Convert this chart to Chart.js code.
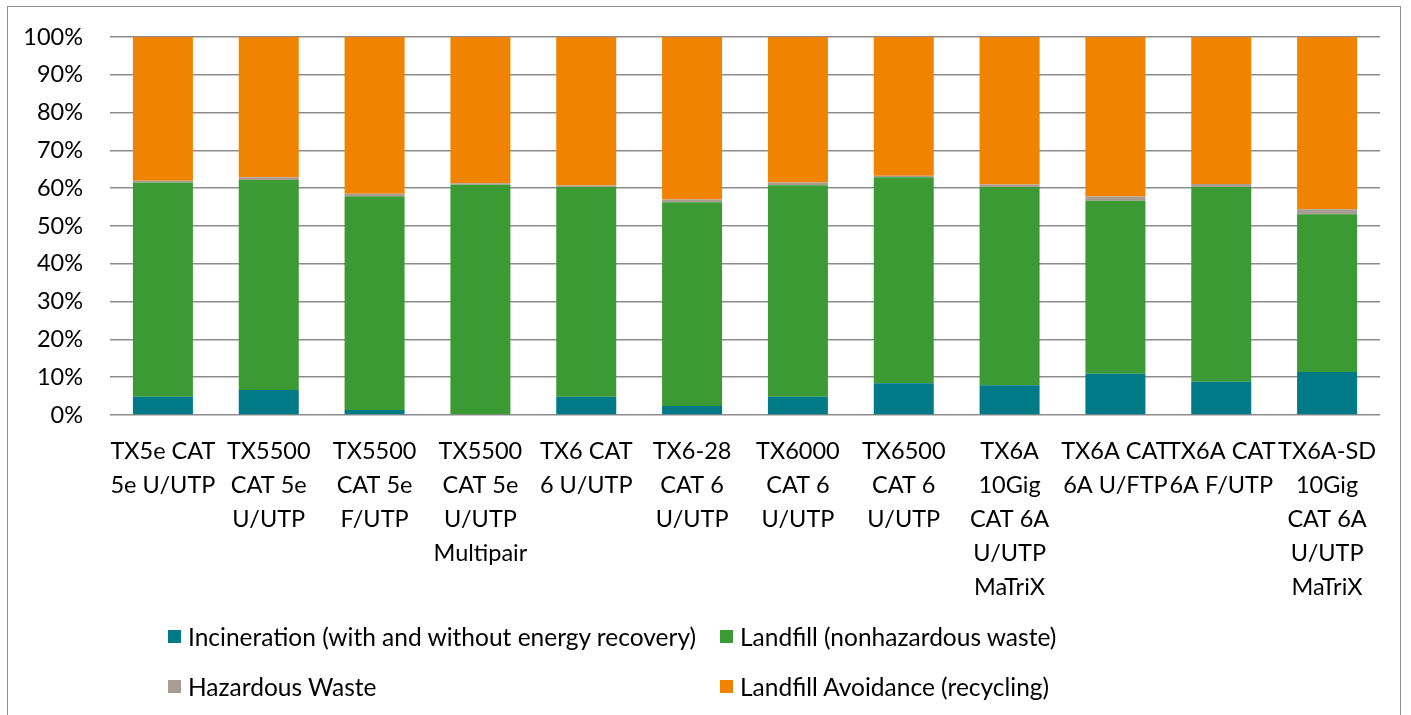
<!DOCTYPE html>
<html>
<head>
<meta charset="utf-8">
<script src="https://cdn.jsdelivr.net/npm/chart.js@4"></script>
<style>
  html, body { margin: 0; padding: 0; background: #fff; overflow: hidden; }
  #wrap { position: relative; width: 1411px; height: 715px; }
  #frame { position: absolute; left: 7px; top: 6px; width: 1394px; height: 800px; border: 1.5px solid #8f8f8f; box-sizing: border-box; }
  #box { position: absolute; left: 0; top: 0; width: 1411px; height: 715px; }
  #legend { position: absolute; left: 168px; top: 618px; display: grid; grid-template-columns: 552px 600px; row-gap: 14px; font-family: Lato, sans-serif; font-size: 24.5px; color: #000; }
  .item { display: flex; align-items: center; height: 36px; white-space: nowrap; }
  .sw { width: 13px; height: 13px; margin-right: 7px; flex: none; }
</style>
</head>
<body>
<div id="wrap">
  <div id="frame"></div>
  <div id="box"><canvas id="chart"></canvas></div>
  <div id="legend"></div>
</div>
<script>
// categories (wrapped the way the original axis shows them)
const categories = [
  ['TX5e CAT', '5e U/UTP'],
  ['TX5500', 'CAT 5e', 'U/UTP'],
  ['TX5500', 'CAT 5e', 'F/UTP'],
  ['TX5500', 'CAT 5e', 'U/UTP', 'Multipair'],
  ['TX6 CAT', '6 U/UTP'],
  ['TX6-28', 'CAT 6', 'U/UTP'],
  ['TX6000', 'CAT 6', 'U/UTP'],
  ['TX6500', 'CAT 6', 'U/UTP'],
  ['TX6A', '10Gig', 'CAT 6A', 'U/UTP', 'MaTriX'],
  ['TX6A CAT', '6A U/FTP'],
  ['TX6A CAT', '6A F/UTP'],
  ['TX6A-SD', '10Gig', 'CAT 6A', 'U/UTP', 'MaTriX']
];

// shares in percent
const incineration = [4.8, 6.6, 1.3, 0.0, 4.8, 2.4, 4.8, 8.4, 7.9, 10.9, 8.8, 11.4];
const landfill     = [56.7, 55.6, 56.6, 60.9, 55.5, 53.9, 56.0, 54.5, 52.4, 45.8, 51.5, 41.7];
const hazardous    = [0.5, 0.7, 0.6, 0.4, 0.4, 0.7, 0.7, 0.4, 0.7, 1.1, 0.8, 1.3];
const recycling    = [38.0, 37.1, 41.5, 38.7, 39.3, 43.0, 38.5, 36.7, 39.0, 42.2, 38.9, 45.6];

const yTicks = [0, 10, 20, 30, 40, 50, 60, 70, 80, 90, 100];

const seriesNames = [
  'Incineration (with and without energy recovery)',
  'Landfill (nonhazardous waste)',
  'Hazardous Waste',
  'Landfill Avoidance (recycling)'
];
const colors = ['#007A87', '#3C9A35', '#A89D92', '#F08300'];
const series = [incineration, landfill, hazardous, recycling];

const FONT = { family: 'Lato, sans-serif', size: 23.5 };

const chart = new Chart(document.getElementById('chart'), {
  type: 'bar',
  data: {
    labels: categories,
    datasets: series.map((d, i) => ({
      label: seriesNames[i],
      data: d,
      backgroundColor: colors[i],
      borderWidth: 0,
      barPercentage: 0.567,
      categoryPercentage: 1
    }))
  },
  options: {
    responsive: true,
    maintainAspectRatio: false,
    animation: false,
    layout: { padding: { top: 37, right: 31, left: 0, bottom: 0 } },
    plugins: { legend: { display: false }, tooltip: { enabled: false } },
    scales: {
      x: {
        stacked: true,
        grid: { display: false, drawTicks: false },
        border: { display: false },
        ticks: {
          color: '#000',
          padding: 19,
          maxRotation: 0,
          autoSkip: false,
          font: { ...FONT, lineHeight: '34px' }
        },
        afterFit: s => { s.height = 300; }
      },
      y: {
        stacked: true,
        min: 0,
        max: 100,
        afterBuildTicks: s => { s.ticks = yTicks.map(v => ({ value: v })); },
        grid: { color: '#8c8c8c', lineWidth: 1.5, drawTicks: false },
        border: { display: false },
        ticks: {
          color: '#000',
          padding: 27,
          font: FONT,
          callback: v => v + '%'
        },
        afterFit: s => {
          s.width = 110;
          // tick padding is horizontal here; keep it out of the vertical overhang
          s.paddingTop = 14;
          s.paddingBottom = 14;
        }
      }
    }
  }
});

// legend laid out in the 2x2 grid of the original
const legend = document.getElementById('legend');
chart.data.datasets.forEach(ds => {
  const el = document.createElement('div');
  el.className = 'item';
  el.innerHTML = '<span class="sw" style="background:' + ds.backgroundColor + '"></span>' + ds.label;
  legend.appendChild(el);
});
</script>
</body>
</html>
